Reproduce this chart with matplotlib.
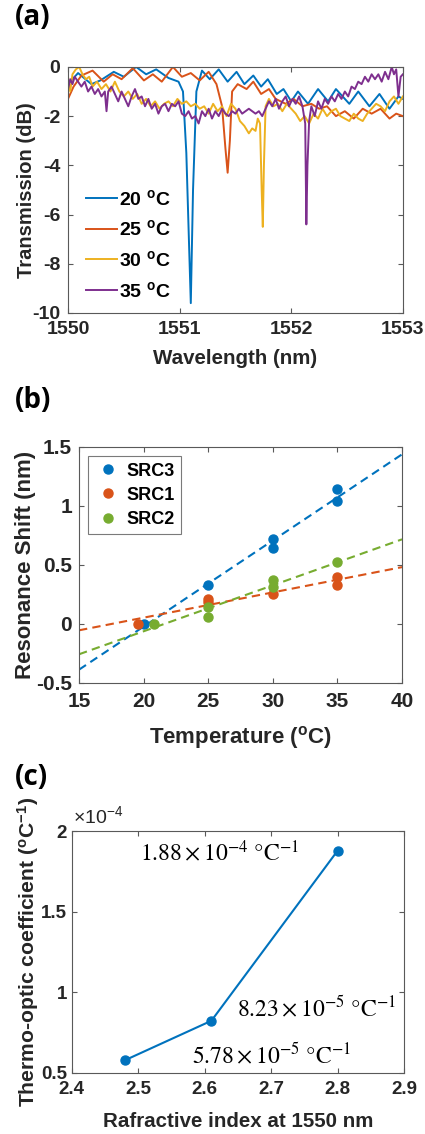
import numpy as np
import matplotlib
matplotlib.use('Agg')
import matplotlib.pyplot as plt
from matplotlib.ticker import FuncFormatter

# datos
# (a) espectros de transmision
wl_20 = [1550.00, 1550.09, 1550.21, 1550.29, 1550.41, 1550.50, 1550.61, 1550.70, 1550.79,
         1550.90, 1550.99, 1551.03, 1551.06, 1551.10, 1551.12, 1551.15, 1551.20, 1551.27,
         1551.35, 1551.43, 1551.51, 1551.58, 1551.66, 1551.73, 1551.79, 1551.87, 1551.93,
         1552.00, 1552.06, 1552.15, 1552.24, 1552.33, 1552.40, 1552.52, 1552.60, 1552.70,
         1552.79, 1552.88, 1552.96, 1553.00]
tr_20 = [-0.7, -0.25, -0.7, -0.55, -0.2, -0.4, 0.0, -0.3, -0.1,
         -0.45, -0.6, -1.0, -3.5, -9.6, -5.0, -1.0, -0.15, -0.5,
         -0.1, -0.6, -0.2, -0.7, -0.35, -0.8, -0.5, -1.1, -0.9,
         -1.4, -1.0, -1.5, -0.9, -1.4, -0.9, -1.5, -1.0, -1.6,
         -1.1, -1.7, -1.2, -1.3]

wl_25 = [1550.00, 1550.05, 1550.12, 1550.22, 1550.32, 1550.40, 1550.48, 1550.58, 1550.68,
         1550.76, 1550.84, 1550.94, 1551.02, 1551.10, 1551.18, 1551.26, 1551.33, 1551.38,
         1551.41, 1551.43, 1551.45, 1551.47, 1551.52, 1551.60, 1551.66, 1551.73, 1551.80,
         1551.86, 1551.95, 1552.02, 1552.10, 1552.18, 1552.25, 1552.32, 1552.40, 1552.48,
         1552.56, 1552.64, 1552.72, 1552.80, 1552.88, 1552.94, 1553.00]
tr_25 = [-1.3, -0.8, -0.35, -0.15, -0.6, -0.3, -0.5, -0.05, -0.55,
         -0.3, -0.6, 0.0, -0.4, -0.25, -0.55, -0.2, -0.7, -1.6,
         -3.3, -4.3, -3.0, -1.0, -0.7, -0.9, -0.6, -1.1, -0.9,
         -1.3, -1.5, -1.3, -1.6, -1.5, -1.7, -1.6, -2.0, -1.8,
         -2.1, -1.7, -1.9, -1.7, -2.1, -1.9, -2.0]

wl_30 = [1550.00, 1550.02, 1550.04, 1550.07, 1550.10, 1550.13, 1550.16, 1550.19, 1550.22,
         1550.26, 1550.30, 1550.34, 1550.38, 1550.42, 1550.46, 1550.50, 1550.54, 1550.58,
         1550.62, 1550.66, 1550.70, 1550.74, 1550.78, 1550.82, 1550.86, 1550.90, 1550.94,
         1550.98, 1551.02, 1551.06, 1551.10, 1551.14, 1551.18, 1551.22, 1551.26, 1551.30,
         1551.34, 1551.38, 1551.42, 1551.46, 1551.50, 1551.54, 1551.58, 1551.62, 1551.65,
         1551.68, 1551.70, 1551.72, 1551.735, 1551.745, 1551.755, 1551.77, 1551.80, 1551.84,
         1551.88, 1551.92, 1551.96, 1552.00, 1552.04, 1552.08, 1552.12, 1552.16, 1552.20,
         1552.24, 1552.28, 1552.32, 1552.36, 1552.40, 1552.44, 1552.48, 1552.52, 1552.56,
         1552.60, 1552.64, 1552.68, 1552.72, 1552.76, 1552.80, 1552.84, 1552.88, 1552.92,
         1552.96, 1553.00]
tr_30 = [-0.4, -1.0, -0.3, -0.1, 0.0, -0.3, -0.5, -0.4, -0.8,
         -0.6, -0.9, -0.7, -1.0, -0.6, -1.0, -1.2, -1.0, -1.3,
         -1.1, -1.5, -1.3, -1.6, -1.4, -1.7, -1.5, -1.4, -1.6,
         -1.3, -1.5, -1.4, -1.6, -1.5, -1.7, -1.6, -1.9, -1.5,
         -1.8, -1.6, -2.0, -1.5, -1.7, -2.2, -2.4, -2.7, -2.5,
         -2.6, -2.1, -2.3, -5.0, -6.5, -4.0, -1.6, -1.3, -1.6,
         -1.5, -1.8, -1.5, -1.7, -1.9, -2.2, -2.0, -2.3, -1.9,
         -2.1, -1.7, -2.0, -1.8, -1.7, -2.0, -2.1, -2.2, -1.9,
         -2.1, -2.2, -1.9, -1.7, -1.5, -1.6, -1.8, -1.4, -1.2,
         -1.5, -1.2]

wl_35 = [1550.00, 1550.02, 1550.04, 1550.06, 1550.09, 1550.12, 1550.15, 1550.18, 1550.21,
         1550.24, 1550.27, 1550.30, 1550.33, 1550.345, 1550.36, 1550.39, 1550.42, 1550.45,
         1550.48, 1550.51, 1550.54, 1550.57, 1550.60, 1550.63, 1550.66, 1550.69, 1550.72,
         1550.75, 1550.78, 1550.81, 1550.84, 1550.87, 1550.90, 1550.93, 1550.96, 1550.99,
         1551.02, 1551.05, 1551.08, 1551.11, 1551.14, 1551.17, 1551.20, 1551.23, 1551.26,
         1551.29, 1551.32, 1551.35, 1551.38, 1551.41, 1551.44, 1551.47, 1551.50, 1551.53,
         1551.56, 1551.59, 1551.62, 1551.65, 1551.68, 1551.71, 1551.74, 1551.77, 1551.80,
         1551.83, 1551.86, 1551.89, 1551.92, 1551.95, 1551.98, 1552.01, 1552.04, 1552.07,
         1552.10, 1552.125, 1552.135, 1552.145, 1552.16, 1552.18, 1552.21, 1552.24, 1552.27,
         1552.30, 1552.33, 1552.36, 1552.39, 1552.42, 1552.45, 1552.48, 1552.51, 1552.54,
         1552.57, 1552.60, 1552.63, 1552.66, 1552.69, 1552.72, 1552.75, 1552.78, 1552.81,
         1552.84, 1552.87, 1552.90, 1552.92, 1552.94, 1552.96, 1552.98, 1553.00]
tr_35 = [-0.9, -0.5, -0.7, -0.4, -0.6, -0.8, -0.6, -1.0, -0.8,
         -1.1, -0.9, -1.2, -1.0, -1.8, -1.0, -0.8, -1.1, -1.4,
         -1.0, -1.3, -1.6, -1.2, -0.9, -1.3, -1.2, -1.6, -1.3,
         -1.7, -1.5, -1.9, -1.6, -1.5, -1.8, -1.5, -1.6, -1.4,
         -1.9, -2.0, -1.8, -2.1, -2.0, -2.3, -1.8, -2.0, -1.7,
         -2.1, -1.8, -2.0, -1.7, -1.9, -2.0, -1.8, -1.9, -1.7,
         -1.9, -1.8, -1.7, -1.8, -1.9, -1.8, -2.0, -1.7, -1.4,
         -1.6, -1.3, -1.7, -1.4, -1.2, -1.6, -1.3, -1.5, -1.2,
         -1.6, -2.3, -6.4, -4.0, -2.2, -1.6, -2.0, -1.4, -1.7,
         -1.3, -1.5, -1.2, -1.4, -1.1, -1.3, -1.0, -1.2, -0.8,
         -0.9, -0.6, -0.7, -0.4, -0.6, -0.3, -0.5, -0.3, -0.6,
         -0.2, -0.5, 0.0, -0.3, -0.1, -1.2, -0.4, -0.3]

# (b) corrimiento de resonancia vs temperatura
temp_src3 = [20, 25, 30, 30, 35, 35]
shift_src3 = [0.0, 0.33, 0.72, 0.64, 1.14, 1.04]
temp_src1 = [19.6, 25, 25, 30, 35, 35]
shift_src1 = [0.0, 0.21, 0.18, 0.25, 0.40, 0.33]
temp_src2 = [20.8, 25, 25, 30, 30, 35]
shift_src2 = [0.0, 0.14, 0.06, 0.37, 0.31, 0.52]

# (c) coeficiente termo-optico
n_1550 = [2.48, 2.61, 2.80]
toc = [5.78e-5, 8.23e-5, 1.88e-4]
toc_labels = [r'$5.78\times10^{-5}\ \mathrm{°C}^{-1}$',
              r'$8.23\times10^{-5}\ \mathrm{°C}^{-1}$',
              r'$1.88\times10^{-4}\ \mathrm{°C}^{-1}$']

c_azul = '#0072BD'
c_naranja = '#D95319'
c_amarillo = '#EDB120'
c_violeta = '#7E2F8E'
c_verde = '#77AC30'
c_txt = '#262626'

plt.rcParams['font.family'] = 'Liberation Sans'
plt.rcParams['axes.unicode_minus'] = False
plt.rcParams['mathtext.fontset'] = 'custom'
plt.rcParams['mathtext.rm'] = 'Liberation Sans'
plt.rcParams['mathtext.bf'] = 'Liberation Sans:bold'
plt.rcParams['mathtext.it'] = 'Liberation Sans:bold'

fig = plt.figure(figsize=(4.25, 11.34), dpi=100)


def estilo(ax, tam, padx, pady):
    for s in ax.spines.values():
        s.set_color('0.35')
        s.set_linewidth(0.8)
    ax.tick_params(direction='in', length=3.5, width=0.8, color='0.35',
                   top=True, right=True, labelsize=tam, labelcolor=c_txt)
    ax.tick_params(axis='x', pad=padx)
    ax.tick_params(axis='y', pad=pady)
    for t in ax.get_xticklabels() + ax.get_yticklabels():
        t.set_fontweight('bold')


# panel a
ax1 = fig.add_axes([0.160, 0.724, 0.788, 0.217])
ax1.plot(wl_20, tr_20, color=c_azul, lw=1.4, label=r'20 $^{\mathbf{o}}$C')
ax1.plot(wl_25, tr_25, color=c_naranja, lw=1.4, label=r'25 $^{\mathbf{o}}$C')
ax1.plot(wl_30, tr_30, color=c_amarillo, lw=1.4, label=r'30 $^{\mathbf{o}}$C')
ax1.plot(wl_35, tr_35, color=c_violeta, lw=1.4, label=r'35 $^{\mathbf{o}}$C')
ax1.set_xlim(1550, 1553)
ax1.set_ylim(-10, 0)
ax1.set_xticks([1550, 1551, 1552, 1553])
ax1.set_yticks([-10, -8, -6, -4, -2, 0])
estilo(ax1, 14, 5.5, 5.5)
ax1.set_xlabel('Wavelength (nm)', fontsize=14.8, fontweight='bold', color=c_txt, labelpad=8.5)
ax1.set_ylabel('Transmission (dB)', fontsize=14.5, fontweight='bold', color=c_txt, labelpad=-3)
leg = ax1.legend(loc='upper left', bbox_to_anchor=(0.055, 0.505), frameon=False,
                 prop={'weight': 'bold', 'size': 14},
                 handlelength=1.55, handletextpad=0.15, labelspacing=0.55,
                 borderpad=0, borderaxespad=0)
fig.text(0.035, 0.997, '(a)', fontsize=20, fontweight='bold', family='Open Sans', va='top')

# panel b
ax2 = fig.add_axes([0.186, 0.398, 0.760, 0.208])
xx = np.array([15, 40])
for tt, ss, cc, nom in [(temp_src3, shift_src3, c_azul, 'SRC3'),
                        (temp_src1, shift_src1, c_naranja, 'SRC1'),
                        (temp_src2, shift_src2, c_verde, 'SRC2')]:
    ax2.plot(tt, ss, 'o', color=cc, ms=6.5, label=nom)
    p = np.polyfit(tt, ss, 1)
    ax2.plot(xx, np.polyval(p, xx), '--', color=cc, lw=1.5, dashes=(4, 2.5))
ax2.set_xlim(15, 40)
ax2.set_ylim(-0.5, 1.5)
ax2.set_xticks([15, 20, 25, 30, 35, 40])
ax2.set_yticks([-0.5, 0, 0.5, 1, 1.5])
ax2.set_yticklabels(['-0.5', '0', '0.5', '1', '1.5'])
estilo(ax2, 15, 7, 5)
ax2.set_xlabel(r'Temperature ($^{\mathbf{o}}$C)', fontsize=16, fontweight='bold',
               color=c_txt, labelpad=9)
ax2.set_ylabel('Resonance Shift (nm)', fontsize=16, fontweight='bold', color=c_txt, labelpad=0)
leg2 = ax2.legend(loc='upper left', bbox_to_anchor=(0.028, 0.96), prop={'weight': 'bold', 'size': 13},
                  fancybox=False, edgecolor='0.35', handletextpad=0.3, borderpad=0.35,
                  labelspacing=0.4, handlelength=1.5, borderaxespad=0)
leg2.get_frame().set_linewidth(0.8)
fig.text(0.035, 0.660, '(b)', fontsize=20, fontweight='bold', family='Open Sans', va='top')

# panel c
ax3 = fig.add_axes([0.169, 0.054, 0.782, 0.213])
ax3.plot(n_1550, toc, '-o', color=c_azul, lw=1.5, ms=6.5)
ax3.set_xlim(2.4, 2.9)
ax3.set_ylim(0.5e-4, 2e-4)
ax3.set_xticks([2.4, 2.5, 2.6, 2.7, 2.8, 2.9])
ax3.set_yticks([0.5e-4, 1e-4, 1.5e-4, 2e-4])
ax3.yaxis.set_major_formatter(FuncFormatter(lambda v, pos: '%g' % round(v / 1e-4, 3)))
estilo(ax3, 13.5, 6, 3.5)
ax3.text(0.005, 1.015, r'$\times$10$^{\mathrm{-4}}$', transform=ax3.transAxes, fontsize=14,
         color=c_txt, ha='left', va='bottom')
ax3.set_xlabel('Rafractive index at 1550 nm', fontsize=14.8, fontweight='bold',
               color=c_txt, labelpad=10)
ax3.set_ylabel(r'Thermo-optic coefficient ($^{\mathbf{o}}$C$^{\mathbf{-1}}$)', fontsize=15.2,
               fontweight='bold', color=c_txt, labelpad=0)
pos_txt = [(2.581, 0.612e-4), (2.648, 0.904e-4), (2.502, 1.866e-4)]
for (px, py), lab in zip(pos_txt, toc_labels):
    ax3.text(px, py, lab, fontsize=17, math_fontfamily='stix',
             color='black', va='center', ha='left')
fig.text(0.035, 0.327, '(c)', fontsize=20, fontweight='bold', family='Open Sans', va='top')

fig.savefig('out.png', dpi=100)
